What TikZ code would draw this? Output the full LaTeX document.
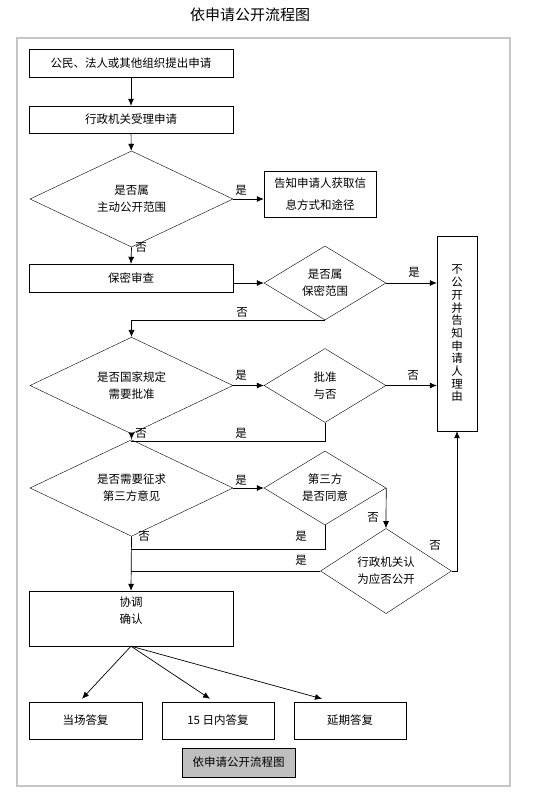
\documentclass[tikz,border=0pt]{standalone}
\usepackage{fontspec}
\setmainfont{Noto Sans CJK SC}
\usetikzlibrary{shapes.geometric,arrows.meta}

\begin{document}
\begin{tikzpicture}[x=1pt,y=-1pt]
  \tikzset{every node/.style={font=\fontsize{11.5}{17}\selectfont},
    box/.style={draw,rectangle,fill=white,align=center,inner sep=0pt,minimum width=204pt,minimum height=28pt},
    ask/.style={draw,diamond,fill=white,align=center,inner sep=0pt,minimum width=203pt,minimum height=74pt},
    flow/.style={-{Latex[length=7pt,width=6pt]},line width=0.7pt},
    line/.style={line width=0.7pt},
    lbl/.style={inner sep=0pt}}
  \fill[white] (0,0) rectangle (551,796);
  \useasboundingbox (0,0) rectangle (551,796);
  \draw[gray!45,line width=1.5pt] (17,38) rectangle (510,786);
  \node (title) at (250,15) {\fontsize{15}{18}\selectfont 依申请公开流程图};
  \node[box] (apply) at (131,63) {公民、法人或其他组织提出申请};
  \node[box,minimum height=27pt] (accept) at (131,119.5) {行政机关受理申请};
  \node[ask] (open) at (131.5,199) {是否属\\主动公开范围};
  \node[box,minimum width=112pt,minimum height=46pt,font=\fontsize{11.5}{22}\selectfont] (inform) at (320,194) {告知申请人获取信\\息方式和途径};
  \node[box] (secret) at (131,278) {保密审查};
  \node[ask,minimum width=122pt] (scope) at (325,283) {是否属\\保密范围};
  \node[box,minimum width=40pt,minimum height=195pt,font=\fontsize{11.5}{12.7}\selectfont] (refuse) at (457,333.5)
    {不\\公\\开\\并\\告\\知\\申\\请\\人\\理\\由};
  \node[ask] (state) at (131.5,385.5) {是否国家规定\\需要批准};
  \node[ask,minimum width=122pt] (approve) at (325,385.5) {批准\\与否};
  \node[ask] (third) at (131.5,488) {是否需要征求\\第三方意见};
  \node[ask,minimum width=122pt] (agree) at (325,488) {第三方\\是否同意};
  \node[ask,minimum width=131pt] (decide) at (386,571) {行政机关认\\为应否公开};
  \node[box,minimum height=55pt] (confirm) at (131,618.5) {协调\\确认\\\mbox{}};
  \node[box,minimum width=113pt,minimum height=37pt] (spot) at (85.5,720.5) {当场答复};
  \node[box,minimum width=112pt,minimum height=37pt] (days) at (218,720.5) {15 日内答复};
  \node[box,minimum width=112pt,minimum height=37pt] (delay) at (350,720.5) {延期答复};
  \node[box,minimum width=113pt,minimum height=29pt,fill=gray!50] (caption) at (238.5,762.5) {依申请公开流程图};
  \coordinate (j1) at (131,441);
  \coordinate (j2) at (131,549);
  \coordinate (j3) at (131,571);
  \draw[flow] (apply) -- (accept);
  \draw[flow] (accept) -- (open);
  \draw[flow] (open.east) -- (open.east -| inform.west);
  \draw[flow] (open.south) -- (secret.north);
  \draw[flow] (secret.east |- scope.west) -- (scope.west);
  \draw[flow] (scope.east) -- (scope.east -| refuse.west);
  \draw[flow] (scope.south) -| (state.north);
  \draw[flow] (state.east) -- (approve.west);
  \draw[flow] (approve.east) -- (approve.east -| refuse.west);
  \draw[flow] (state.south) -- (third.north);
  \draw[line] (approve.south) |- (j1);
  \draw[flow] (third.east) -- (agree.west);
  \draw[flow] (agree.east) -- (decide.north);
  \draw[flow] (decide.east) -| (refuse.south);
  \draw[line] (agree.south) |- (j2);
  \draw[line] (decide.west) -- (j3);
  \draw[flow] (third.south) -- (confirm.north);
  \draw[flow] (confirm.south) -- ([xshift=-3.5pt,yshift=3pt]spot.north);
  \draw[flow] (confirm.south) -- ([xshift=-8pt,yshift=3pt]days.north);
  \draw[flow] (confirm.south) -- ([xshift=-28pt,yshift=3pt]delay.north);
  \foreach \t/\x/\y [count=\i] in {是/241/190, 否/141/247, 是/414/272, 否/242/312, 是/241/375, 否/413/375,
      否/141/433, 是/241/433, 是/241/480, 否/373/517, 否/144/536, 是/301/536, 否/435/545, 是/301/560}
    \node[lbl] (lab\i) at (\x,\y) {\t};
\end{tikzpicture}
\end{document}
